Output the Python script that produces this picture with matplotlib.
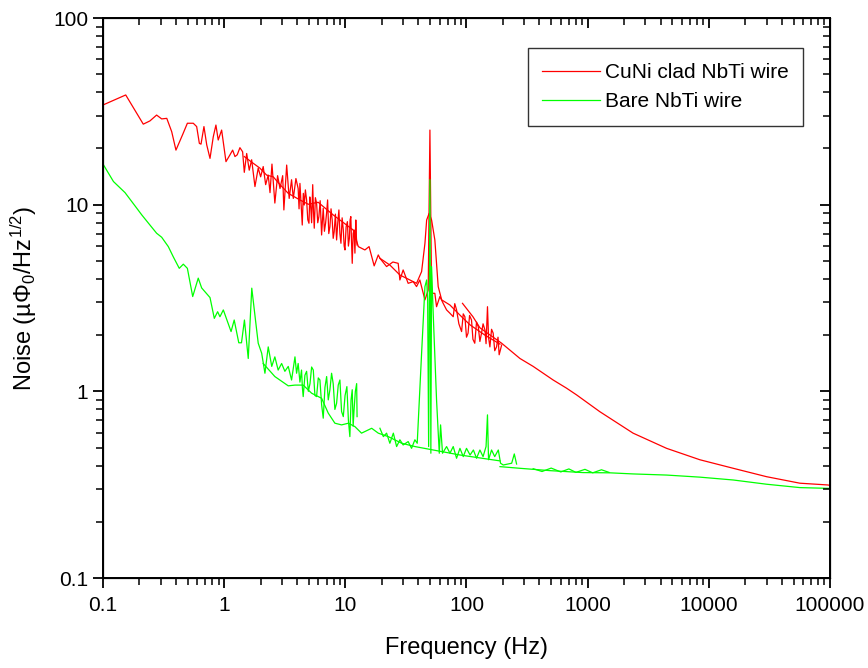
import matplotlib
matplotlib.use("Agg")
import matplotlib.pyplot as plt
from matplotlib.ticker import FixedLocator, NullFormatter, LogLocator

plt.rcParams['font.family'] = ['Liberation Sans', 'DejaVu Sans']
plt.rcParams['mathtext.fontset'] = 'custom'
plt.rcParams['mathtext.rm'] = 'Liberation Sans'
plt.rcParams['mathtext.it'] = 'Liberation Sans'

# ---------------- CuNi clad NbTi wire (red) ----------------
# low-frequency, noisy spectrum (0.1 - 12.5 Hz)
cuni_f1 = [0.100, 0.154, 0.215, 0.244, 0.277, 0.305, 0.336, 0.369, 0.400, 0.455,
           0.497, 0.556, 0.593, 0.624, 0.644, 0.681, 0.718, 0.764, 0.813, 0.855,
           0.893, 0.953, 1.035, 1.117, 1.175, 1.228, 1.282, 1.349, 1.42, 1.466,
           1.534, 1.61, 1.686, 1.795, 1.91, 2.0, 2.10, 2.20, 2.31, 2.39,
           2.48, 2.62, 2.76, 2.89, 3.04, 3.11, 3.28, 3.44, 3.60, 3.72,
           3.91,
           4.08, 4.15, 4.22, 4.31, 4.41, 4.50, 4.58, 4.68, 4.79, 4.90,
           5.01, 5.09, 5.17, 5.27, 5.38, 5.46, 5.54, 5.66, 5.79, 5.92,
           6.05, 6.20, 6.37, 6.47, 6.57, 6.72, 6.87, 7.00, 7.14, 7.30,
           7.46, 7.62, 7.79, 7.94, 8.09, 8.28, 8.47, 8.66, 8.85, 9.02,
           9.2, 9.41, 9.62, 9.78, 9.93, 10.15, 10.4, 10.6, 10.8, 10.95,
           11.1, 11.25, 11.4, 11.6, 11.8, 12.0, 12.2, 12.35, 12.5]
cuni_v1 = [34.2, 38.7, 27.0, 28.1, 30.2, 28.8, 29.0, 24.6, 19.6, 23.8,
           27.3, 27.3, 26.2, 21.3, 21.1, 26.2, 20.9, 17.7, 23.1, 26.7,
           22.2, 25.1, 17.0, 18.5, 19.6, 18.1, 18.5, 20.2, 19.2, 14.9,
           18.8, 15.3, 17.4, 12.5, 15.7, 14.1, 16.0, 12.8, 14.4, 11.6,
           16.5, 10.2, 14.3, 12.2, 14.3, 9.37, 16.3, 10.8, 13.6, 10.8,
           13.8,
           12.2, 9.5, 13.0, 10.2, 7.78, 11.5, 9.96, 12.0, 10.6, 8.3,
           7.95, 11.0, 9.96, 8.0, 12.8, 9.2, 7.48, 10.9, 10.2, 8.0,
           8.63, 10.5, 6.88, 8.2, 9.57, 7.2, 7.95, 9.0, 10.6, 7.0,
           7.62, 9.5, 8.28, 6.6, 7.16, 8.9, 6.47, 8.0, 9.37, 7.0,
           6.21, 8.5, 7.32, 6.0, 5.72, 7.6, 8.11, 6.0, 6.61, 8.3,
           8.63, 6.3, 4.85, 7.0, 7.32, 5.5, 8.28, 6.6, 6.08]

# mid-frequency, averaged spectrum (1.5 - 190 Hz) with broad 50 Hz peak
cuni_f2 = [1.466, 1.686, 1.97, 2.24, 2.54, 2.89, 3.38, 4.22, 4.94, 5.97,
           7.94, 11.6, 12.8, 14.5, 15.7, 17.3, 18.7, 19.3, 23.3, 28.2,
           34.1, 38.7, 42.6, 45.4, 46.9, 49.2, 51.5, 54.8, 58.4, 62.4,
           73.0, 88.3, 107, 142, 189]
cuni_v2 = [18.1, 16.9, 15.7, 14.4, 14.1, 12.8, 11.5, 10.6, 10.05, 10.3,
           8.81, 7.32, 5.96, 5.72, 5.96, 4.70, 5.38, 5.16, 4.75, 4.20,
           3.95, 3.79, 4.38, 6.21, 8.28, 8.99, 8.28, 6.47, 3.64, 3.09,
           2.90, 2.56, 2.27, 2.00, 1.79]

# 20 - 200 Hz noisy spectrum with sharp 50 Hz line
cuni_f3 = [19.3, 21.9, 24.7, 27.3, 28.2, 30.0, 33.0, 36.3, 38.7, 41.2,
           45.4, 48.3, 49.9, 51.5, 54.8, 56.6, 60.3, 64.2, 68.5, 73.0,
           77.7, 80.0, 82.8, 86.5, 91.1, 94.0, 97.0, 100, 103, 106,
           110, 113, 117, 121, 125, 129, 133, 137, 142, 145,
           149, 152, 156, 161, 166, 171, 177, 182, 186, 195]
cuni_v3 = [5.16, 4.66, 4.93, 4.85, 3.95, 4.47, 3.79, 3.87, 3.64, 3.95,
           3.09, 3.49, 25.1, 3.35, 3.35, 2.84, 3.22, 2.96, 2.73, 2.62,
           2.51, 2.95, 2.73, 2.30, 2.09, 2.60, 2.51, 1.95, 2.05, 2.55,
           2.41, 1.90, 1.81, 2.35, 2.22, 1.85, 2.05, 2.30, 2.13, 1.80,
           2.84, 1.95, 1.73, 2.15, 2.05, 1.65, 1.73, 1.95, 1.57, 1.77]

# high-frequency spectrum (93 Hz - 100 kHz)
cuni_f4 = [92.7, 113, 129, 195, 276, 355, 519, 669, 810, 1260,
           2370, 4480, 8430, 15900, 29900, 56400, 96400, 100000]
cuni_v4 = [2.96, 2.51, 2.19, 1.81, 1.50, 1.36, 1.15, 1.04, 0.957, 0.778,
           0.597, 0.495, 0.430, 0.387, 0.349, 0.322, 0.315, 0.313]

# ---------------- Bare NbTi wire (green) ----------------
bare_f1 = [0.100, 0.122, 0.152, 0.190, 0.209, 0.244, 0.277, 0.305, 0.346, 0.380,
           0.426, 0.460, 0.497, 0.550, 0.611, 0.652, 0.764, 0.829, 0.883, 0.923,
           0.984, 1.14, 1.21, 1.32, 1.39, 1.47, 1.58, 1.69, 1.80, 1.91,
           2.04, 2.17, 2.31, 2.47, 2.62, 2.79, 2.98, 3.17, 3.38, 3.60,
           3.84, 3.96, 4.08, 4.22, 4.35, 4.42, 4.49, 4.64, 4.79, 4.95,
           5.11, 5.27, 5.44, 5.61, 5.79, 5.98, 6.17, 6.37, 6.57, 6.79,
           7.01, 7.23, 7.46, 7.70, 7.94, 8.2, 8.47, 8.74, 9.02, 9.31,
           9.62, 9.95, 10.3, 10.6, 10.9, 11.15, 11.4, 11.6, 11.8, 12.1,
           12.4, 12.5]
bare_v1 = [16.5, 13.3, 11.6, 9.57, 8.81, 7.78, 7.03, 6.69, 5.96, 5.26,
           4.56, 4.80, 4.56, 3.22, 4.04, 3.58, 3.18, 2.46, 2.67, 2.51,
           2.73, 2.09, 2.41, 1.82, 1.82, 2.41, 1.50, 3.57, 2.51, 1.81,
           1.60, 1.25, 1.73, 1.36, 1.53, 1.30, 1.41, 1.28, 1.36, 1.15,
           1.53, 1.25, 1.41, 1.12, 1.30, 1.05, 0.937, 1.22, 1.28, 1.0,
           1.10, 1.35, 1.30, 0.95, 0.937, 1.18, 1.15, 0.85, 0.718, 1.05,
           1.20, 0.9, 1.02, 1.25, 1.10, 0.8, 0.863, 1.08, 1.15, 0.78,
           0.732, 0.95, 1.06, 0.7, 0.572, 0.9, 1.02, 0.65, 0.794, 1.0,
           1.10, 0.732]

bare_f2 = [2.10, 2.62, 3.38, 3.84, 4.49, 5.27, 6.37, 7.23, 8.2, 9.31,
           10.6, 12.0, 13.6, 16.5, 18.7, 22.6, 29.2, 37.5, 88.3, 189]
bare_v2 = [1.41, 1.20, 1.07, 1.08, 1.08, 0.977, 0.918, 0.764, 0.675, 0.661,
           0.675, 0.647, 0.597, 0.634, 0.597, 0.572, 0.527, 0.506, 0.456, 0.424]

bare_f3 = [19.3, 20.6, 21.9, 23.3, 24.9, 26.5, 28.2, 30.0, 33.0, 35.2,
           37.5, 39.2, 42.6, 45.4, 46.9, 47.8, 48.7, 49.9, 50.8, 51.5,
           53.1, 56.6, 59.6, 61.1, 63.4, 68.5, 73.0, 77.7, 82.8, 88.3,
           94.0, 100, 107, 114, 121, 129, 137, 145, 149, 152,
           161, 171, 183, 191, 201, 236, 248, 259]
bare_v3 = [0.634, 0.572, 0.597, 0.527, 0.597, 0.506, 0.550, 0.516, 0.538, 0.495,
           0.550, 0.527, 1.60, 3.64, 3.95, 3.09, 0.506, 13.6, 0.466, 4.66,
           2.62, 0.899, 0.466, 0.661, 0.466, 0.506, 0.466, 0.506, 0.438, 0.495,
           0.447, 0.495, 0.456, 0.485, 0.438, 0.485, 0.447, 0.506, 0.748, 0.430,
           0.485, 0.447, 0.485, 0.412, 0.403, 0.412, 0.462, 0.408]

bare_f4 = [189, 276, 488, 918, 1520, 2370, 4480, 8430, 15900, 29900, 56400, 100000]
bare_v4 = [0.395, 0.387, 0.376, 0.367, 0.366, 0.361, 0.356, 0.347, 0.335, 0.318, 0.305, 0.302]

bare_f5 = [355, 420, 500, 600, 700, 800, 950, 1100, 1300, 1500]
bare_v5 = [0.385, 0.372, 0.388, 0.370, 0.384, 0.368, 0.382, 0.366, 0.380, 0.368]

x_ticks = [0.1, 1, 10, 100, 1000, 10000, 100000]
x_tick_labels = ['0.1', '1', '10', '100', '1000', '10000', '100000']
y_ticks = [0.1, 1, 10, 100]
y_tick_labels = ['0.1', '1', '10', '100']

RED = '#ff0000'
GREEN = '#00ff00'

fig = plt.figure(figsize=(8.68, 6.68), dpi=100)
ax = fig.add_axes([103/868, 90/668, 727/868, 560/668])

lw = 0.9
ax.plot(cuni_f1, cuni_v1, color=RED, lw=lw, label='CuNi clad NbTi wire')
ax.plot(cuni_f2, cuni_v2, color=RED, lw=lw)
ax.plot(cuni_f3, cuni_v3, color=RED, lw=lw)
ax.plot(cuni_f4, cuni_v4, color=RED, lw=lw)
ax.plot(bare_f1, bare_v1, color=GREEN, lw=lw, label='Bare NbTi wire')
ax.plot(bare_f2, bare_v2, color=GREEN, lw=lw)
ax.plot(bare_f3, bare_v3, color=GREEN, lw=lw)
ax.plot(bare_f4, bare_v4, color=GREEN, lw=lw)
ax.plot(bare_f5, bare_v5, color=GREEN, lw=lw)

ax.set_xscale('log')
ax.set_yscale('log')
ax.set_xlim(0.1, 100000)
ax.set_ylim(0.1, 100)

ax.xaxis.set_major_locator(FixedLocator(x_ticks))
ax.set_xticklabels(x_tick_labels)
ax.yaxis.set_major_locator(FixedLocator(y_ticks))
ax.set_yticklabels(y_tick_labels)
ax.xaxis.set_minor_locator(LogLocator(base=10, subs=range(2, 10), numticks=20))
ax.yaxis.set_minor_locator(LogLocator(base=10, subs=range(2, 10), numticks=20))
ax.xaxis.set_minor_formatter(NullFormatter())
ax.yaxis.set_minor_formatter(NullFormatter())

ax.tick_params(which='major', direction='out', length=7, width=1.3, labelsize=15)
ax.tick_params(which='minor', direction='out', length=5, width=1.1)
ax.tick_params(axis='x', which='major', pad=6)

for s in ax.spines.values():
    s.set_linewidth(1.4)

# top / right inward ticks
axt = ax.twiny()
axt.set_xscale('log')
axt.set_xlim(0.1, 100000)
axt.xaxis.set_major_locator(FixedLocator(x_ticks))
axt.xaxis.set_minor_locator(LogLocator(base=10, subs=range(2, 10), numticks=20))
axt.tick_params(which='major', direction='in', length=7, width=1.3, labeltop=False)
axt.tick_params(which='minor', direction='in', length=5, width=1.1)
axr = ax.twinx()
axr.set_yscale('log')
axr.set_ylim(0.1, 100)
axr.yaxis.set_major_locator(FixedLocator(y_ticks))
axr.yaxis.set_minor_locator(LogLocator(base=10, subs=range(2, 10), numticks=20))
axr.tick_params(which='major', direction='in', length=7, width=1.3, labelright=False)
axr.tick_params(which='minor', direction='in', length=5, width=1.1)
for a in (axt, axr):
    a.xaxis.set_minor_formatter(NullFormatter())
    a.yaxis.set_minor_formatter(NullFormatter())

ax.set_xlabel('Frequency (Hz)', fontsize=17, labelpad=16)
ax.set_ylabel('Noise (µΦ$_0$/Hz$^{1/2}$)', fontsize=17, labelpad=10)

leg = ax.legend(loc='upper right', bbox_to_anchor=(0.963, 0.946), borderaxespad=0,
                fancybox=False, frameon=True, fontsize=15, handlelength=2.75,
                handletextpad=0.25, borderpad=0.7, labelspacing=0.5)
leg.get_frame().set_edgecolor('black')
leg.get_frame().set_linewidth(1.0)

fig.savefig('out.png', dpi=100)
